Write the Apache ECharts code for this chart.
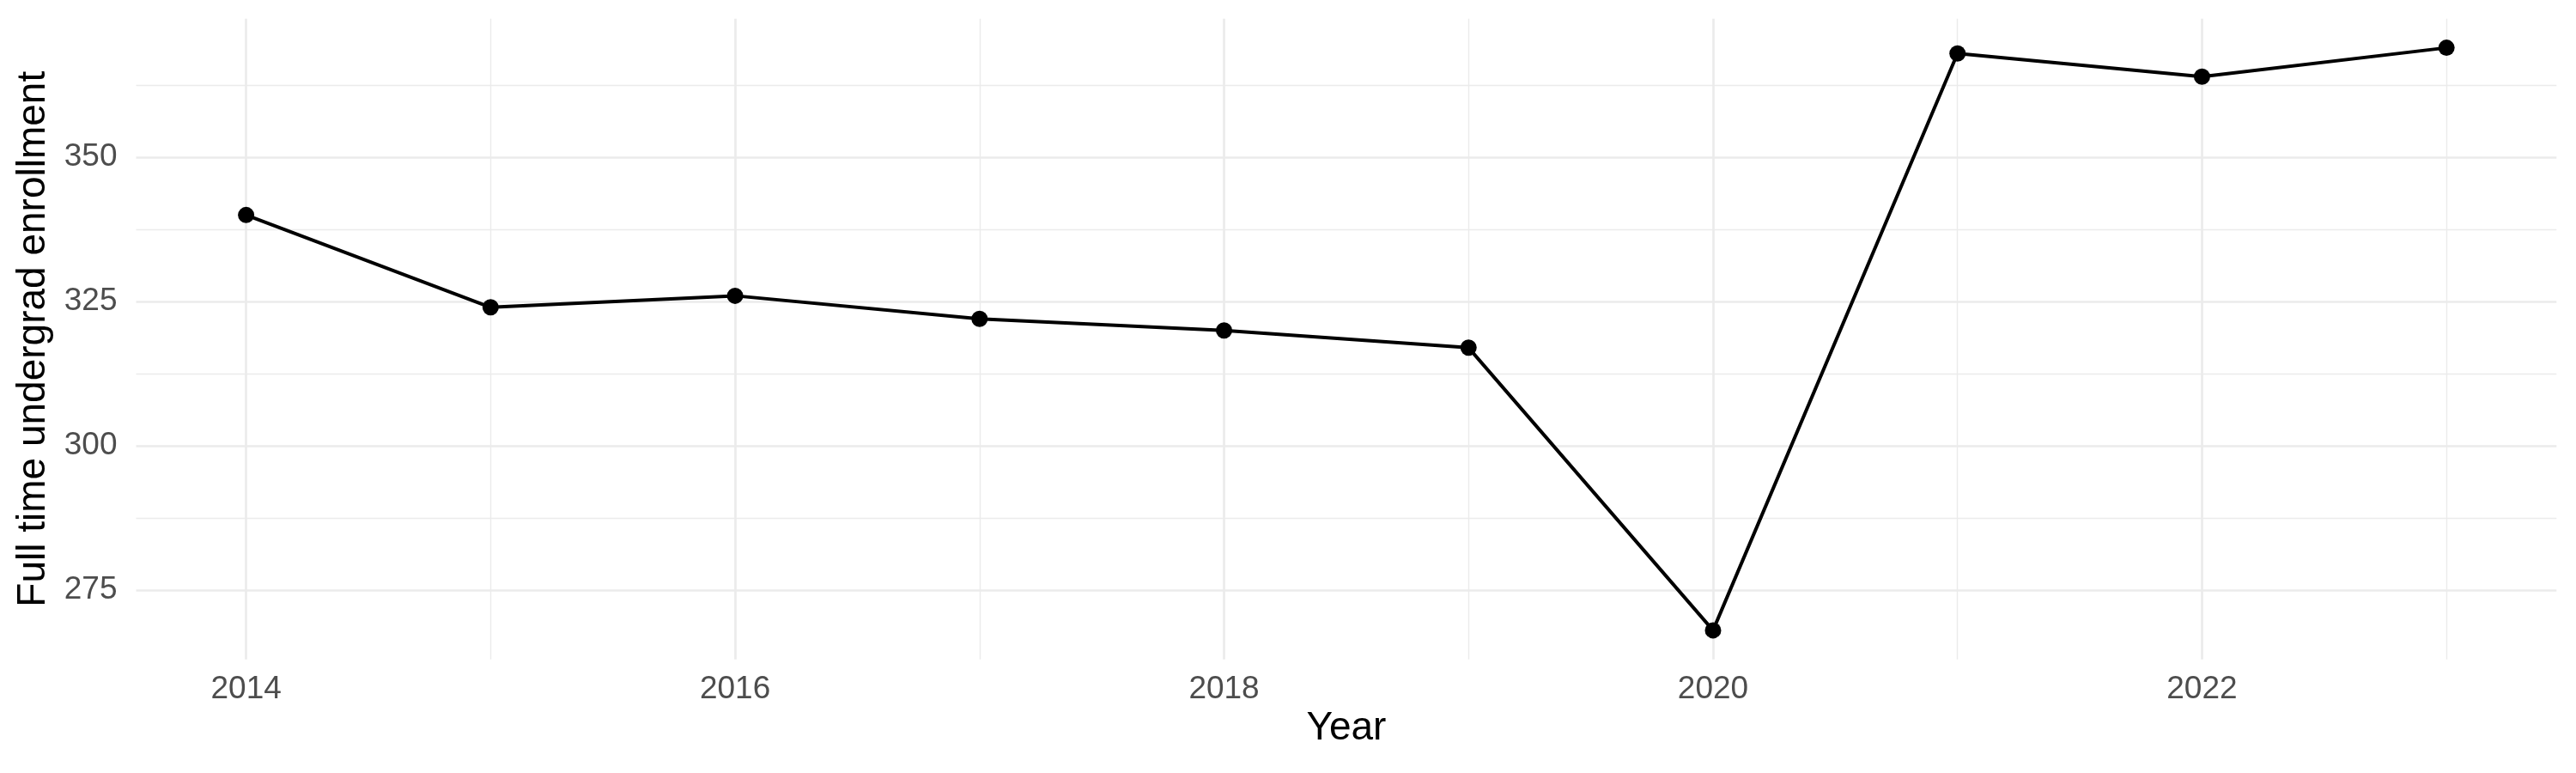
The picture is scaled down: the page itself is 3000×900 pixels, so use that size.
<!DOCTYPE html>
<html>
<head>
<meta charset="utf-8">
<script src="https://cdn.jsdelivr.net/npm/echarts@6/dist/echarts.min.js"></script>
<style>
html,body{margin:0;padding:0;background:#fff;}
#chart{width:3000px;height:900px;}
</style>
</head>
<body>
<div id="chart"></div>
<script>
const years = [2014, 2015, 2016, 2017, 2018, 2019, 2020, 2021, 2022, 2023];
const enrollment = [340, 324, 326, 322, 320, 317, 268, 368, 364, 369];
const xMajorTicks = [2014, 2016, 2018, 2020, 2022];
const xMinorTicks = [2015, 2017, 2019, 2021, 2023];
const yMajorTicks = [275, 300, 325, 350];
const yMinorTicks = [287.5, 312.5, 337.5, 362.5];

const xMin = 2013.55, xMax = 2023.45;
const yMin = 262.95, yMax = 374.05;
const FONT = 'Liberation Sans';
const GRID = '#EBEBEB';

const chart = echarts.init(document.getElementById('chart'), null, {renderer: 'canvas'});
chart.setOption({
  animation: false,
  backgroundColor: '#ffffff',
  grid: {left: 158.5, right: 22.7, top: 21.7, bottom: 132.2, containLabel: false},
  xAxis: [
    {
      type: 'value', min: xMin, max: xMax,
      name: 'Year', nameLocation: 'middle', nameGap: 54,
      nameTextStyle: {fontFamily: FONT, fontSize: 46, color: '#000'},
      axisLine: {show: false},
      axisTick: {show: false, customValues: xMajorTicks},
      axisLabel: {customValues: xMajorTicks, fontFamily: FONT, fontSize: 37, color: '#4D4D4D', margin: 16,
        formatter: v => String(v)},
      splitLine: {show: true, lineStyle: {color: GRID, width: 2.7}}
    },
    {
      type: 'value', min: xMin, max: xMax, position: 'bottom',
      axisLine: {show: false},
      axisTick: {show: false, customValues: xMinorTicks},
      axisLabel: {show: false, customValues: xMinorTicks},
      splitLine: {show: true, lineStyle: {color: GRID, width: 1.4}}
    }
  ],
  yAxis: [
    {
      type: 'value', min: yMin, max: yMax,
      name: 'Full time undergrad enrollment', nameLocation: 'middle', nameGap: 96,
      nameTextStyle: {fontFamily: FONT, fontSize: 46, color: '#000'},
      axisLine: {show: false},
      axisTick: {show: false, customValues: yMajorTicks},
      axisLabel: {customValues: yMajorTicks, fontFamily: FONT, fontSize: 37, color: '#4D4D4D', margin: 22,
        formatter: v => String(v)},
      splitLine: {show: true, lineStyle: {color: GRID, width: 2.7}}
    },
    {
      type: 'value', min: yMin, max: yMax, position: 'left',
      axisLine: {show: false},
      axisTick: {show: false, customValues: yMinorTicks},
      axisLabel: {show: false, customValues: yMinorTicks},
      splitLine: {show: true, lineStyle: {color: GRID, width: 1.4}}
    }
  ],
  series: [{
    type: 'line',
    xAxisIndex: 0, yAxisIndex: 0,
    data: years.map((y, i) => [y, enrollment[i]]),
    symbol: 'circle', symbolSize: 19,
    lineStyle: {color: '#000', width: 4},
    itemStyle: {color: '#000'},
    z: 10
  }]
});
</script>
</body>
</html>
